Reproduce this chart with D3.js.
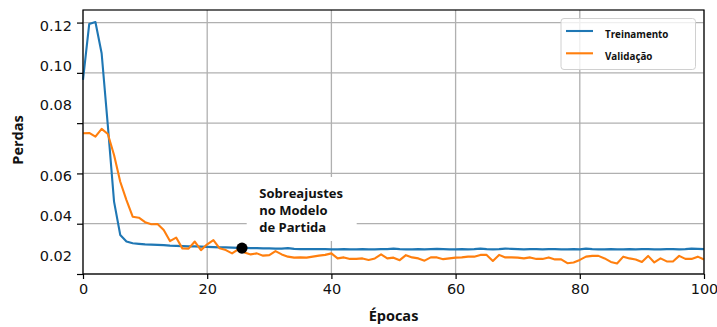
<!DOCTYPE html>
<html>
<head>
<meta charset="utf-8">
<script src="https://cdn.jsdelivr.net/npm/d3@7"></script>
<style>
  body { margin: 0; background: #fff; }
  svg { display: block; }
</style>
</head>
<body>
<svg id="chart" width="717" height="327"></svg>
<script>
// ---- data ----
const epochs = d3.range(0, 101);
const treino = [
  0.0972, 0.1194, 0.1202, 0.1078, 0.0790, 0.0488, 0.0355, 0.0329, 0.0322, 0.0320,
  0.0318, 0.0317, 0.0316, 0.0315, 0.0313, 0.0312, 0.0311, 0.0310, 0.0310, 0.0309,
  0.0308, 0.0307, 0.0306, 0.0306, 0.0305, 0.0304, 0.0304, 0.0303, 0.0303, 0.0302,
  0.0302, 0.0301, 0.0301, 0.0303, 0.0300, 0.0299, 0.0299, 0.0299, 0.0299, 0.0299,
  0.0298, 0.0298, 0.0299, 0.0298, 0.0298, 0.0299, 0.0298, 0.0298, 0.0299, 0.0299,
  0.0301, 0.0299, 0.0298, 0.0298, 0.0299, 0.0298, 0.0299, 0.0300, 0.0299, 0.0298,
  0.0298, 0.0299, 0.0298, 0.0299, 0.0301, 0.0299, 0.0298, 0.0299, 0.0301, 0.0300,
  0.0299, 0.0298, 0.0299, 0.0299, 0.0298, 0.0299, 0.0299, 0.0298, 0.0298, 0.0299,
  0.0298, 0.0301, 0.0299, 0.0298, 0.0298, 0.0299, 0.0298, 0.0298, 0.0299, 0.0298,
  0.0299, 0.0299, 0.0298, 0.0298, 0.0299, 0.0299, 0.0298, 0.0299, 0.0301, 0.0300,
  0.0299
];
const validacao = [
  0.0760, 0.0761, 0.0746, 0.0777, 0.0757, 0.0673, 0.0567, 0.0494, 0.0428, 0.0424,
  0.0406, 0.0398, 0.0399, 0.0375, 0.0331, 0.0345, 0.0302, 0.0301, 0.0329, 0.0295,
  0.0318, 0.0335, 0.0302, 0.0295, 0.0282, 0.0298, 0.0286, 0.0278, 0.0282, 0.0273,
  0.0275, 0.0291, 0.0278, 0.0269, 0.0265, 0.0266, 0.0265, 0.0269, 0.0273, 0.0276,
  0.0282, 0.0262, 0.0266, 0.0260, 0.0260, 0.0262, 0.0256, 0.0262, 0.0278, 0.0262,
  0.0265, 0.0255, 0.0275, 0.0266, 0.0262, 0.0253, 0.0266, 0.0266, 0.0259, 0.0262,
  0.0265, 0.0266, 0.0269, 0.0269, 0.0276, 0.0276, 0.0252, 0.0276, 0.0266, 0.0266,
  0.0265, 0.0262, 0.0266, 0.0260, 0.0260, 0.0266, 0.0258, 0.0258, 0.0243, 0.0246,
  0.0256, 0.0269, 0.0272, 0.0272, 0.0262, 0.0248, 0.0242, 0.0269, 0.0262, 0.0258,
  0.0248, 0.0272, 0.0246, 0.0262, 0.0250, 0.0250, 0.0272, 0.0260, 0.0260, 0.0269,
  0.0258
];
const xTicks = [0, 20, 40, 60, 80, 100];
const yTicks = [0.02, 0.04, 0.06, 0.08, 0.10, 0.12];
const yTickLabels = ["0.02", "0.04", "0.06", "0.08", "0.10", "0.12"];
const seriesNames = ["Treinamento", "Validação"];
const marker = { epoch: 25.6, loss: 0.0303 };
const annotationLines = ["Sobreajustes", "no Modelo", "de Partida"];
const xTitle = "Épocas";
const yTitle = "Perdas";

// ---- layout ----
const colors = ["#1f77b4", "#ff7f0e"];
const pL = 83, pR = 704, pT = 10, pB = 274;
// vertical nudges of tick labels as they appear in the reference
const yLabelShift = [-18, -7.7, 2.6, -18, -7, 3.4];

const svg = d3.select("#chart");
const x = d3.scaleLinear().domain([0, 100]).range([pL, pR]);
const y = d3.scaleLinear().domain([0.02, 0.125]).range([pB, pT]);

// grid
const grid = svg.append("g").attr("stroke", "#b0b0b0").attr("stroke-width", 1.3);
grid.selectAll("line.h").data(yTicks).join("line")
  .attr("x1", pL).attr("x2", pR)
  .attr("y1", d => y(d)).attr("y2", d => y(d));
grid.selectAll("line.v").data(xTicks).join("line")
  .attr("y1", pT).attr("y2", pB)
  .attr("x1", d => x(d)).attr("x2", d => x(d));

// annotation background box
svg.append("rect")
  .attr("x", 246.7).attr("y", 177).attr("width", 110).attr("height", 64)
  .attr("fill", "#fff");

// lines
const line = d3.line().x((d, i) => x(epochs[i])).y(d => y(d));
[treino, validacao].forEach((s, k) => {
  svg.append("path").datum(s)
    .attr("fill", "none").attr("stroke", colors[k])
    .attr("stroke-width", 2.1).attr("stroke-linejoin", "round")
    .attr("d", line);
});

// marker
svg.append("circle")
  .attr("cx", x(marker.epoch)).attr("cy", y(marker.loss)).attr("r", 5.6)
  .attr("fill", "#000");

// annotation text
const ann = svg.append("text")
  .attr("font-family", "'Open Sans', sans-serif").attr("font-weight", "bold")
  .attr("font-size", 13).attr("fill", "#111");
annotationLines.forEach((t, i) => {
  ann.append("tspan").attr("x", 259.3).attr("y", 198.3 + i * 16.8).text(t);
});

// axes
const xAxis = svg.append("g").attr("transform", `translate(0,${pB})`)
  .call(d3.axisBottom(x).tickValues(xTicks).tickFormat(d3.format("d")).tickSize(5).tickPadding(5));
const yAxis = svg.append("g").attr("transform", `translate(${pL},0)`)
  .call(d3.axisLeft(y).tickValues(yTicks).tickFormat((d, i) => yTickLabels[i]).tickSize(6).tickPadding(5));
[xAxis, yAxis].forEach(a => {
  a.select(".domain").remove();
  a.selectAll("line").attr("stroke", "#000").attr("stroke-width", 1.2);
  a.selectAll("text").attr("font-family", "'DejaVu Sans', sans-serif")
    .attr("font-size", 14.5).attr("fill", "#111");
});
yAxis.selectAll(".tick text").attr("transform", (d, i) => `translate(0,${yLabelShift[i]})`);

// frame
svg.append("rect").attr("x", pL).attr("y", pT)
  .attr("width", pR - pL).attr("height", pB - pT)
  .attr("fill", "none").attr("stroke", "#000").attr("stroke-width", 1.2);

// axis titles
svg.append("text").attr("x", (pL + pR) / 2).attr("y", 321)
  .attr("text-anchor", "middle")
  .attr("font-family", "'Open Sans', sans-serif").attr("font-weight", "bold")
  .attr("font-size", 14.5).attr("fill", "#111").text(xTitle);
svg.append("text")
  .attr("transform", `translate(23,140) rotate(-90)`)
  .attr("text-anchor", "middle")
  .attr("font-family", "'Open Sans', sans-serif").attr("font-weight", "bold")
  .attr("font-size", 14.5).attr("fill", "#111").text(yTitle);

// legend
const lg = svg.append("g");
lg.append("rect").attr("x", 561).attr("y", 18.5).attr("width", 134.5).attr("height", 51)
  .attr("rx", 3).attr("fill", "#fff").attr("fill-opacity", 0.8)
  .attr("stroke", "#d0d0d0").attr("stroke-width", 1);
seriesNames.forEach((n, i) => {
  const yy = 31 + i * 22.3;
  lg.append("line").attr("x1", 566).attr("x2", 593).attr("y1", yy).attr("y2", yy)
    .attr("stroke", colors[i]).attr("stroke-width", 2.1);
  lg.append("text").attr("x", 605).attr("y", yy + 6.8)
    .attr("font-family", "'Open Sans', sans-serif").attr("font-weight", "bold")
    .attr("font-size", 9.8).attr("fill", "#111").text(n);
});
</script>
</body>
</html>
